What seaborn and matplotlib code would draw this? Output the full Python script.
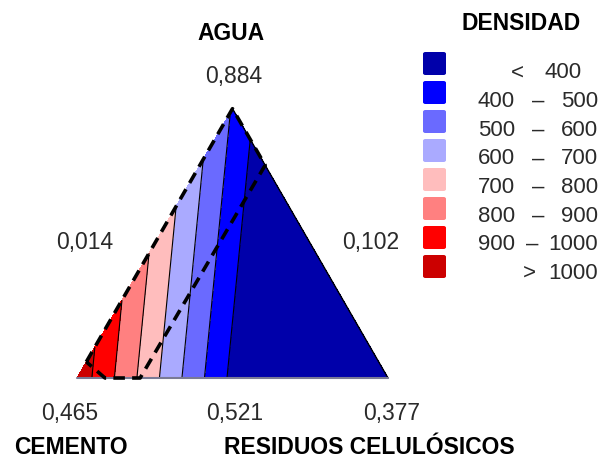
import numpy as np
import matplotlib
matplotlib.use("Agg")
import matplotlib.pyplot as plt
import matplotlib.tri as mtri
from matplotlib.patches import FancyBboxPatch
import seaborn as sns

# Mixture components (vertex order: cement, water, cellulose residue)
vertex_names = ["CEMENTO", "AGUA", "RESIDUOS CELULÓSICOS"]
vertex_values = ["0,465", "0,884", "0,377"]
edge_values = ["0,014", "0,102", "0,521"]  # left edge, right edge, base

# Linear Scheffé model for density (coefficients at the pure pseudo-components)
coef_cemento = 1066.0
coef_agua = 492.0
coef_residuos = -315.0

# Density classes
level_breaks = [400, 500, 600, 700, 800, 900, 1000]
class_left = ["<", "400", "500", "600", "700", "800", "900", ">"]
class_right = ["400", "500", "600", "700", "800", "900", "1000", "1000"]
class_colors = ["#0000AA", "#0000FF", "#6A6AFF", "#AAAAFF",
                "#FFBDBD", "#FF8080", "#FF0000", "#CC0000"]

# Experimental region (fractions: cement, water, residue)
region_cemento = [0.94, 0.00, 0.00, 0.797, 0.91, 0.94]
region_agua = [0.06, 1.00, 0.79, 0.000, 0.00, 0.06]
region_residuos = [0.00, 0.00, 0.21, 0.203, 0.09, 0.00]

H = np.sqrt(3) / 2


def to_xy(c, a, r):
    c, a, r = np.asarray(c, float), np.asarray(a, float), np.asarray(r, float)
    s = c + a + r
    a, r = a / s, r / s
    return r + a / 2, a * H


sns.set_theme(style="white")
plt.rcParams["font.family"] = ["Liberation Sans", "DejaVu Sans"]

W, Hpx = 611, 461
fig = plt.figure(figsize=(W / 100, Hpx / 100), dpi=100)
ax = fig.add_axes([0, 0, 1, 1])
unit = 311.0
x_left_px, base_px = 77.0, 378.0
ax.set_xlim(-x_left_px / unit, (W - x_left_px) / unit)
ax.set_ylim(-(Hpx - base_px) / unit, base_px / unit)
ax.axis("off")

# Triangular mesh over the simplex
n = 120
pts = [(i / n, j / n, (n - i - j) / n) for i in range(n + 1) for j in range(n + 1 - i)]
cc, aa, rr = np.array(pts).T
gx, gy = to_xy(cc, aa, rr)
tri = mtri.Triangulation(gx, gy)
density = coef_cemento * cc + coef_agua * aa + coef_residuos * rr

bounds = [-1e4] + level_breaks + [1e4]
ax.tricontourf(tri, density, levels=bounds, colors=class_colors)
ax.tricontour(tri, density, levels=level_breaks, colors="black", linewidths=0.8)

# Triangle outline
tx, ty = to_xy([1, 0, 0, 1], [0, 1, 0, 0], [0, 0, 1, 0])
ax.plot(tx[1:3], ty[1:3], color="black", lw=1.0)
ax.plot(tx[2:4], ty[2:4], color="#7A7A96", lw=1.5)

# Constrained region
px, py = to_xy(region_cemento, region_agua, region_residuos)
ax.plot(px, py, color="black", lw=2.6, ls=(0, (3.2, 2.0)), solid_capstyle="butt")


def ftext(x, y, s, ha="center", **kw):
    kw.setdefault("color", "#2a2a2a")
    fig.text(x / W, 1 - y / Hpx, s, ha=ha, va="center", **kw)


num = dict(fontsize=16.5)
title = dict(fontsize=16.5, fontweight="bold", color="black")

ftext(231, 33, vertex_names[1], **title)
ftext(234, 77, vertex_values[1], **num)
ftext(85, 242, edge_values[0], **num)
ftext(371, 242, edge_values[1], **num)
ftext(70, 413, vertex_values[0], **num)
ftext(235, 413, edge_values[2], **num)
ftext(392, 413, vertex_values[2], **num)
ftext(71, 447, vertex_names[0], **title)
ftext(369, 447, vertex_names[2], **title)
ftext(521, 24, "DENSIDAD", **title)

# Legend
lab_kw = dict(fontsize=16)
for k, (lo, hi, col) in enumerate(zip(class_left, class_right, class_colors)):
    top = 52 + 29 * k
    box = FancyBboxPatch((423 / W, 1 - (top + 23) / Hpx), 23 / W, 23 / Hpx,
                         boxstyle="round,pad=0,rounding_size=0.004",
                         transform=fig.transFigure, facecolor=col, edgecolor="none")
    fig.add_artist(box)
    yc = 73 + 28.6 * k
    if lo == "<":
        ftext(517, yc, lo, **lab_kw)
        ftext(582, yc, hi, ha="right", **lab_kw)
    elif lo == ">":
        ftext(529, yc, lo, **lab_kw)
        ftext(598, yc, hi, ha="right", **lab_kw)
    else:
        ftext(515, yc, lo, ha="right", **lab_kw)
        ftext(538 if len(hi) < 4 else 532, yc, "–", **lab_kw)
        ftext(598, yc, hi, ha="right", **lab_kw)

fig.savefig("out.png", dpi=100)
